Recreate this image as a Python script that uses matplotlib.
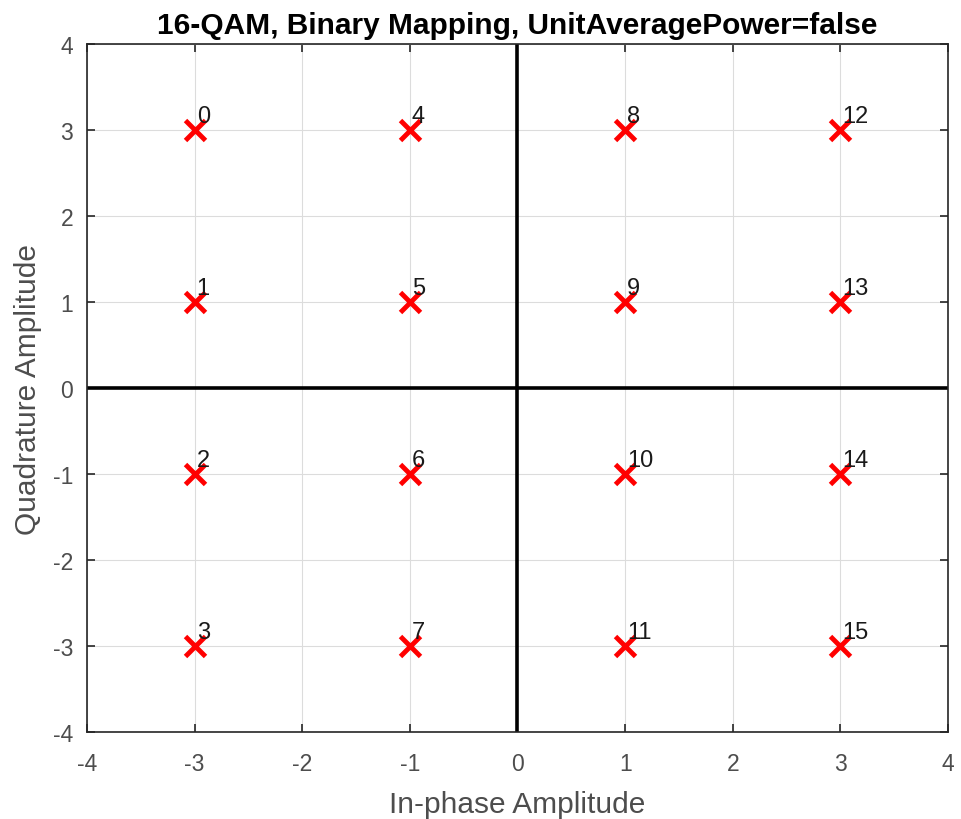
import numpy as np
import matplotlib.pyplot as plt

plt.rcParams['font.family'] = ['Liberation Sans', 'DejaVu Sans']
plt.rcParams['axes.unicode_minus'] = False

# constellation points (binary mapping)
symbols = list(range(16))
in_phase = [-3, -3, -3, -3, -1, -1, -1, -1, 1, 1, 1, 1, 3, 3, 3, 3]
quadrature = [3, 1, -1, -3, 3, 1, -1, -3, 3, 1, -1, -3, 3, 1, -1, -3]
ticks = [-4, -3, -2, -1, 0, 1, 2, 3, 4]

fig = plt.figure(figsize=(9.61, 8.2), dpi=100)
ax = fig.add_axes([0.0905, 0.1061, 0.896, 0.839])

ax.axhline(0, color='black', lw=2.6, zorder=2)
ax.axvline(0, color='black', lw=2.6, zorder=2)
ax.plot(in_phase, quadrature, 'x', color='red', ms=14, mew=3.5, zorder=3)
for s, i, q in zip(symbols, in_phase, quadrature):
    ax.annotate(str(s), (i, q), xytext=(1.5, 2), textcoords='offset points',
                ha='left', va='bottom', fontsize=17, color='#1a1a1a', zorder=4)

ax.set_xlim(-4, 4)
ax.set_ylim(-4, 4)
ax.set_xticks(ticks)
ax.set_yticks(ticks)
ax.grid(True, color='#dcdcdc', lw=0.8)
ax.set_axisbelow(True)
ax.tick_params(direction='in', top=True, right=True, length=6, width=1.2,
               colors='#262626', labelcolor='#4d4d4d', labelsize=16.5)
ax.tick_params(axis='x', pad=14.5)
ax.tick_params(axis='y', pad=10)
for sp in ax.spines.values():
    sp.set_color('#262626')
    sp.set_linewidth(1.2)

ax.set_xlabel('In-phase Amplitude', fontsize=21.5, color='#4d4d4d', labelpad=11)
ax.set_ylabel('Quadrature Amplitude', fontsize=21.5, color='#4d4d4d', labelpad=8)
ax.set_title('16-QAM, Binary Mapping, UnitAveragePower=false',
             fontsize=21.5, fontweight='bold', color='black', pad=8)

fig.savefig('out.png', dpi=100)
